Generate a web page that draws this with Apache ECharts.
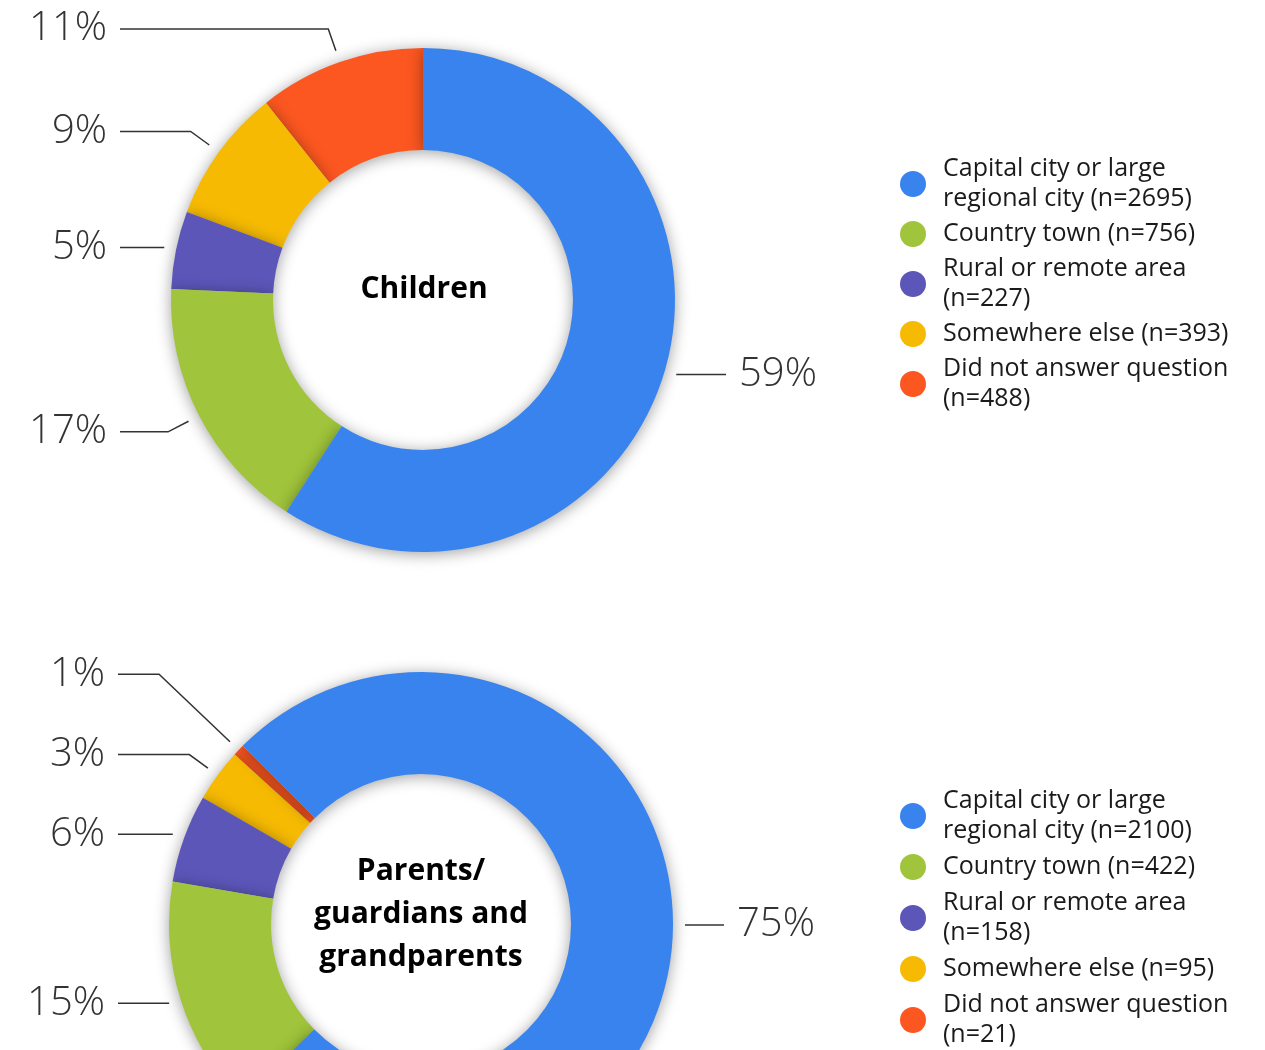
<!DOCTYPE html>
<html>
<head>
<meta charset="utf-8">
<script src="https://cdn.jsdelivr.net/npm/echarts@6/dist/echarts.min.js"></script>
<style>
  html, body { margin: 0; padding: 0; background: #fff; }
  #chart { width: 1265px; height: 1050px; }
</style>
</head>
<body>
<div id="chart"></div>
<script>
// data
const categories = [
  'Capital city or large regional city',
  'Country town',
  'Rural or remote area',
  'Somewhere else',
  'Did not answer question'
]
const colors = ['#3883ee', '#a0c43b', '#5c56b9', '#f6ba03', '#fc5720']
const childrenCounts = [2695, 756, 227, 393, 488]
const parentCounts = [2100, 422, 158, 95, 21]
const childrenTitle = 'Children'
const parentTitle = 'Parents/\nguardians and\ngrandparents'

const FONT = '"Open Sans", "Noto Sans", sans-serif'
const pieCenters = [[423, 300], [421, 924]]
const LINE_END = 303 // horizontal distance from centre to the outer end of leader lines
const GAP = 12 // space between ring and leader line

// slices are drawn in reverse order, counter-clockwise, so each slice
// casts its shadow on the one before it (like the original)
const buildData = (counts, lineLen) =>
  categories
    .map((name, i) => ({
      name,
      value: counts[i],
      itemStyle: { color: colors[i] },
      labelLine: { length: lineLen[i] }
    }))
    .reverse()

// leader lines start a bit away from the ring and all end on one x per side
const labelLayout = (p) => {
  const pts = p.labelLinePoints
  if (!pts || pts.length < 3) return {}
  const c = pieCenters[p.seriesIndex]
  const dx = pts[1][0] - pts[0][0]
  const dy = pts[1][1] - pts[0][1]
  const len = Math.sqrt(dx * dx + dy * dy) || 1
  const k = Math.min(GAP / len, 1)
  pts[0] = [pts[0][0] + dx * k, pts[0][1] + dy * k]
  const isLeft = pts[2][0] < c[0]
  const endX = c[0] + (isLeft ? -LINE_END : LINE_END)
  pts[2] = [endX, pts[2][1]]
  return {
    labelLinePoints: pts,
    x: endX + (isLeft ? -13 : 13),
    align: isLeft ? 'right' : 'left'
  }
}

const pieSeries = (counts, center, startAngle, lineLen) => ({
  type: 'pie',
  center,
  radius: [150, 252],
  startAngle,
  clockwise: false,
  avoidLabelOverlap: true,
  itemStyle: {
    shadowBlur: 15,
    shadowColor: 'rgba(0, 0, 0, 0.38)',
    shadowOffsetY: 2
  },
  label: {
    show: true,
    position: 'outside',
    distanceToLabelLine: 13,
    formatter: (p) => Math.round(p.percent) + '%',
    fontFamily: FONT,
    fontSize: 40,
    fontWeight: 300,
    color: '#333'
  },
  labelLine: {
    show: true,
    length: 35,
    length2: 22,
    lineStyle: { color: '#333', width: 1.5 }
  },
  labelLayout,
  emphasis: { disabled: true },
  data: buildData(counts, lineLen)
})

const legendFor = (counts, top, gap) => ({
  orient: 'vertical',
  left: 900,
  top,
  height: 300,
  padding: 0,
  itemWidth: 50,
  itemHeight: 26,
  itemGap: gap,
  icon: 'circle',
  selectedMode: false,
  data: categories,
  itemStyle: { shadowBlur: 0, borderWidth: 0 },
  formatter: (name) => name + ' (n=' + counts[categories.indexOf(name)] + ')',
  textStyle: {
    fontFamily: FONT,
    fontSize: 25,
    lineHeight: 30,
    color: '#1a1a1a',
    width: 310,
    overflow: 'break'
  }
})

const chart = echarts.init(document.getElementById('chart'))

chart.setOption({
  animation: false,
  backgroundColor: '#fff',
  legend: [legendFor(childrenCounts, 154, 5), legendFor(parentCounts, 786, 6)],
  graphic: [
    {
      type: 'text',
      x: 424,
      y: 289,
      style: {
        text: childrenTitle,
        fontFamily: FONT,
        fontSize: 30,
        fontWeight: 'bold',
        fill: '#000',
        align: 'center',
        verticalAlign: 'middle'
      }
    },
    {
      type: 'text',
      x: 421,
      y: 914,
      style: {
        text: parentTitle,
        fontFamily: FONT,
        fontSize: 30,
        fontWeight: 'bold',
        lineHeight: 43,
        fill: '#000',
        align: 'center',
        verticalAlign: 'middle'
      }
    }
  ],
  series: [
    // leader line length per slice: near-horizontal slices get a straight line
    pieSeries(childrenCounts, pieCenters[0], 90, [12, 35, 12, 35, 35]),
    pieSeries(parentCounts, pieCenters[1], 135, [12, 12, 12, 35, 110])
  ]
})
</script>
</body>
</html>
